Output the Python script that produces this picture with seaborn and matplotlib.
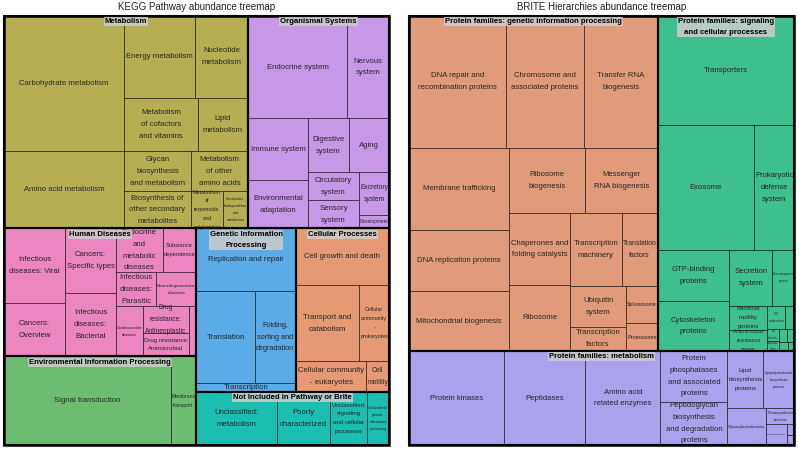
import matplotlib
matplotlib.use("Agg")
import matplotlib.pyplot as plt
import seaborn as sns
from matplotlib.patches import Rectangle
from matplotlib.font_manager import FontProperties
from itertools import combinations

sns.set_theme(style="white")
plt.rcParams['font.family'] = ['Liberation Sans', 'DejaVu Sans']

# ---- KEGG pathway abundances (level 1 -> level 2) ----
kegg_groups = ["Metabolism", "Organismal Systems", "Human Diseases",
               "Environmental Information Processing", "Genetic Information Processing",
               "Cellular Processes", "Not Included in Pathway or Brite"]

metabolism_names = ["Carbohydrate metabolism", "Amino acid metabolism", "Energy metabolism",
                    "Nucleotide metabolism", "Metabolism of cofactors and vitamins", "Lipid metabolism",
                    "Glycan biosynthesis and metabolism", "Biosynthesis of other secondary metabolites",
                    "Metabolism of other amino acids", "Metabolism of terpenoids and polyketides",
                    "Xenobiotics biodegradation and metabolism"]
metabolism_vals = [16320, 9240, 5822, 4346, 3996, 2700, 2680, 2479, 2280, 1179, 933]

organismal_names = ["Endocrine system", "Nervous system", "Immune system", "Environmental adaptation",
                    "Digestive system", "Aging", "Circulatory system", "Sensory system",
                    "Excretory system", "Development"]
organismal_vals = [10197, 4326, 3720, 2880, 2214, 2160, 1430, 1426, 1290, 390]

disease_names = ["Infectious diseases: Viral", "Cancers: Overview", "Cancers: Specific types",
                 "Infectious diseases: Bacterial", "Endocrine and metabolic diseases",
                 "Substance dependence", "Infectious diseases: Parasitic", "Neurodegenerative diseases",
                 "Cardiovascular diseases", "Drug resistance: Antineoplastic",
                 "Drug resistance: Antimicrobial", "Immune diseases"]
disease_vals = [4550, 3300, 3290, 3260, 2064, 1493, 1360, 1350, 1345, 1230, 1120, 350]

envinfo_names = ["Signal transduction", "Membrane transport"]
envinfo_vals = [14800, 2250]

genetic_names = ["Replication and repair", "Translation", "Folding, sorting and degradation", "Transcription"]
genetic_vals = [6310, 5377, 3756, 880]

cellular_names = ["Cell growth and death", "Transport and catabolism", "Cellular community - prokaryotes",
                  "Cellular community - eukaryotes", "Cell motility"]
cellular_vals = [5349, 4795, 2239, 2189, 704]

notincl_names = ["Unclassified: metabolism", "Poorly characterized",
                 "Unclassified: signaling and cellular processes",
                 "Unclassified: genetic information processing"]
notincl_vals = [4301, 2857, 1956, 1173]

kegg_colors = sns.color_palette(["#B5AE52", "#C598E8", "#EC86C0", "#6DBD70",
                                 "#5BABE6", "#E69A73", "#1CBEB2"])

# ---- BRITE hierarchy abundances ----
brite_groups = ["Protein families: genetic information processing",
                "Protein families: signaling and cellular processes",
                "Protein families: metabolism"]

pf_genetic_names = ["DNA repair and recombination proteins", "Chromosome and associated proteins",
                    "Transfer RNA biogenesis", "Membrane trafficking", "DNA replication proteins",
                    "Mitochondrial biogenesis", "Ribosome biogenesis", "Messenger RNA biogenesis",
                    "Chaperones and folding catalysts", "Ribosome", "Transcription machinery",
                    "Translation factors", "Ubiquitin system", "Transcription factors",
                    "Spliceosome", "Proteasome"]
pf_genetic_vals = [12764, 10375, 9689, 8255, 6148, 5988, 4940, 4706, 4370, 4006, 3790, 2639,
                   2275, 1368, 1162, 870]

pf_signal_names = ["Transporters", "Exosome", "Prokaryotic defense system", "GTP-binding proteins",
                   "Cytoskeleton proteins", "Secretion system", "Two-component system",
                   "Bacterial motility proteins", "Antimicrobial resistance genes", "CD molecules",
                   "Cilium and associated proteins", "Ion channels", "Bacterial toxins", "Lectins",
                   "Glycosaminoglycan binding proteins", "Cell adhesion molecules",
                   "G protein-coupled receptors"]
pf_signal_vals = [14971, 12046, 4988, 3672, 3600, 2386, 1232, 919, 804, 412, 217, 140, 120, 100,
                  90, 80, 64]

pf_metab_names = ["Protein kinases", "Peptidases", "Amino acid related enzymes",
                  "Protein phosphatases and associated proteins",
                  "Peptidoglycan biosynthesis and degradation proteins", "Lipid biosynthesis proteins",
                  "Lipopolysaccharide biosynthesis proteins", "Glycosyltransferases",
                  "Photosynthesis proteins", "Prenyltransferases", "Polyketide biosynthesis proteins",
                  "Cytochrome P450"]
pf_metab_vals = [8958, 7614, 7050, 3397, 2901, 2063, 1776, 1420, 448, 428, 80, 70]

brite_colors = sns.color_palette(["#E29B7A", "#3EBF8E", "#AAA2EC"])


def pivot_size(items, x, y, w, h):
    # pivot-by-size treemap layout, items sorted by decreasing value
    if not items:
        return []
    if len(items) == 1:
        return [(items[0][0], x, y, w, h)]
    total = sum(v for _, v in items)
    pv = items[0][1]
    rest = items[1:]
    wide = w > h
    best_k, best_r, acc = 0, None, pv
    for k in range(len(rest) + 1):
        if k > 0:
            acc += rest[k - 1][1]
        if wide:
            sw, ph = w * acc / total, h * pv / acc
            r = max(sw / ph, ph / sw)
        else:
            sh, pw = h * acc / total, w * pv / acc
            r = max(pw / sh, sh / pw)
        if best_r is None or r < best_r:
            best_r, best_k = r, k
    r2, r3 = rest[:best_k], rest[best_k:]
    acc = pv + sum(v for _, v in r2)
    if wide:
        sw, ph = w * acc / total, h * pv / acc
        return ([(items[0][0], x, y, sw, ph)] + pivot_size(r2, x, y + ph, sw, h - ph)
                + pivot_size(r3, x + sw, y, w - sw, h))
    sh, pw = h * acc / total, w * pv / acc
    return ([(items[0][0], x, y, pw, sh)] + pivot_size(r2, x + pw, y, w - pw, sh)
            + pivot_size(r3, x, y + sh, w, h - sh))


fig = plt.figure(figsize=(7.99, 4.49), dpi=100)
renderer = fig.canvas.get_renderer()
BASE = 5.55
BASE_PX = BASE * 100 / 72
props = {w: FontProperties(family=['Liberation Sans'], size=BASE, weight=w) for w in ('normal', 'bold')}
_cache = {}


def text_w(s, weight='normal'):
    if (s, weight) not in _cache:
        _cache[(s, weight)] = renderer.get_text_width_height_descent(s, props[weight], ismath=False)[0]
    return _cache[(s, weight)]


def wrap(words, n, weight='normal'):
    best = None
    for cuts in combinations(range(1, len(words)), n - 1):
        idx = (0,) + cuts + (len(words),)
        lines = [" ".join(words[idx[i]:idx[i + 1]]) for i in range(n)]
        wmax = max(text_w(l, weight) for l in lines)
        if best is None or wmax < best[0]:
            best = (wmax, lines)
    return best


def leaf_label(ax, name, x, y, w, h):
    words = name.split()
    best_sc, best_lines = 0, None
    for n in range(1, min(len(words), 6) + 1):
        wmax, lines = wrap(words, n)
        hblock = BASE_PX * (0.94 + 1.455 * (n - 1))
        sc = min(1.0, (w - 1.5) / wmax, (h - 1) / hblock)
        if sc > best_sc + 1e-6:
            best_sc, best_lines = sc, lines
    if best_sc < 0.28:
        return
    ax.text(x + w / 2, y + h / 2, "\n".join(best_lines), ha='center', va='center',
            fontsize=BASE * best_sc, color='#262626', linespacing=1.95)


def group_label(ax, name, x, y, w):
    words = name.split()
    lines = [name]
    for n in range(1, len(words) + 1):
        wmax, lines = wrap(words, n, 'bold')
        if wmax <= w - 4:
            break
    ax.text(x + w / 2, y + 2.4, "\n".join(lines), ha='center', va='top', fontsize=BASE,
            fontweight='bold', color='black', linespacing=1.8,
            bbox=dict(boxstyle='square,pad=0.12', fc='#CCCCCC', alpha=0.86, ec='none'))


def draw_treemap(left, width, height, title, groups, names, vals, colors):
    ax = fig.add_axes([left / 799, 4 / 449, width / 799, height / 449])
    ax.set_xlim(0, width)
    ax.set_ylim(height, 0)
    ax.axis('off')
    totals = [sum(v) for v in vals]
    order = sorted(range(len(groups)), key=lambda i: -totals[i])
    group_rects = pivot_size([(i, totals[i]) for i in order], 0, 0, width, height)
    leaf_rects = []
    for gi, gx, gy, gw, gh in group_rects:
        leaves = sorted(zip(names[gi], vals[gi]), key=lambda t: -t[1])
        for name, lx, ly, lw, lh in pivot_size(leaves, gx, gy, gw, gh):
            ax.add_patch(Rectangle((lx, ly), lw, lh, fc=colors[gi], ec=(0, 0, 0, 0.55), lw=0.7))
            leaf_rects.append((name, lx, ly, lw, lh))
    for gi, gx, gy, gw, gh in group_rects:
        ax.add_patch(Rectangle((gx, gy), gw, gh, fill=False, ec='black', lw=1.5, clip_on=False))
    for name, lx, ly, lw, lh in leaf_rects:
        leaf_label(ax, name, lx, ly, lw, lh)
    for gi, gx, gy, gw, gh in group_rects:
        group_label(ax, groups[gi], gx, gy, gw)
    ax.add_patch(Rectangle((0, 0), width, height, fill=False, ec='black', lw=1.8, clip_on=False))
    fig.text((left + width / 2) / 799, 1 - 7.5 / 449, title, ha='center', va='center',
             fontsize=7.0, color='#222222')


draw_treemap(4, 385, 429.3, "KEGG Pathway abundance treemap", kegg_groups,
             [metabolism_names, organismal_names, disease_names, envinfo_names,
              genetic_names, cellular_names, notincl_names],
             [metabolism_vals, organismal_vals, disease_vals, envinfo_vals,
              genetic_vals, cellular_vals, notincl_vals], kegg_colors)

draw_treemap(409, 385.3, 429.3, "BRITE Hierarchies abundance treemap", brite_groups,
             [pf_genetic_names, pf_signal_names, pf_metab_names],
             [pf_genetic_vals, pf_signal_vals, pf_metab_vals], brite_colors)

fig.savefig("out.png", dpi=100)
